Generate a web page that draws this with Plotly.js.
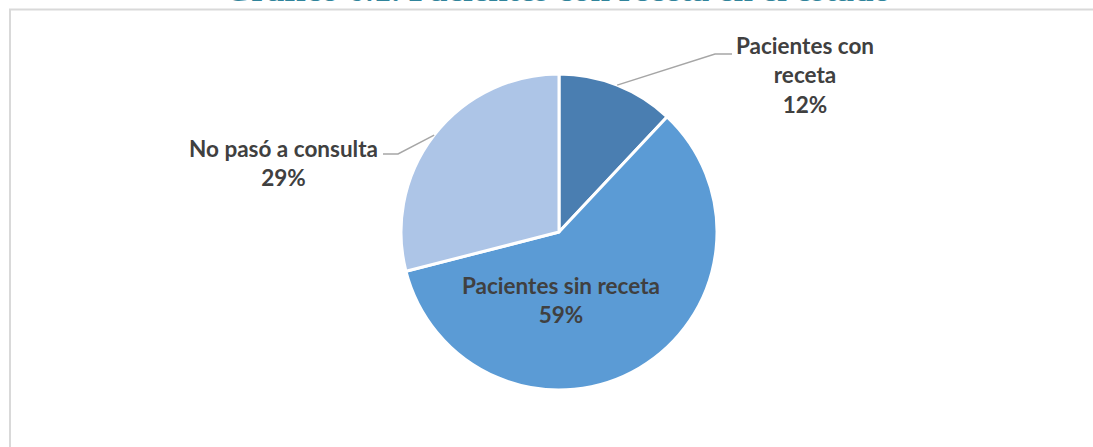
<!DOCTYPE html>
<html>
<head>
<meta charset="utf-8">
<script src="https://cdn.plot.ly/plotly-3.0.1.min.js"></script>
<style>
  html, body { margin: 0; padding: 0; background: #fff; }
  #chart { width: 1093px; height: 447px; }
</style>
</head>
<body>
<div id="chart"></div>
<script>
/* Data */
var categorias = ['Pacientes con receta', 'Pacientes sin receta', 'No pasó a consulta'];
var porcentajes = [12, 59, 29];
var colores = ['#4a7eb1', '#5b9bd5', '#adc5e7'];

var W = 1093, H = 447;
// pie placement in pixels
var cx = 559, cy = 232, R = 158;

var trace = {
  type: 'pie',
  labels: categorias,
  values: porcentajes,
  sort: false,
  direction: 'clockwise',
  rotation: 0,
  textinfo: 'none',
  hoverinfo: 'none',
  marker: {colors: colores, line: {color: '#ffffff', width: 3}},
  domain: {
    x: [(cx - R) / W, (cx + R) / W],
    y: [(H - cy - R) / H, (H - cy + R) / H]
  },
  showlegend: false
};

// point on pie edge at the middle of slice i (px)
function bordeMedio(i) {
  var total = porcentajes.reduce(function (a, b) { return a + b; }, 0);
  var antes = 0;
  for (var k = 0; k < i; k++) antes += porcentajes[k];
  var ang = (antes + porcentajes[i] / 2) / total * 2 * Math.PI;
  return [cx + R * Math.sin(ang), cy - R * Math.cos(ang)];
}
function px(x, y) { return [x / W, 1 - y / H]; }

var p0 = bordeMedio(0), p2 = bordeMedio(2);
function guia(p, codoX, codoY, finX) {
  var a = px(p[0], p[1]), b = px(codoX, codoY), c = px(finX, codoY);
  return {
    type: 'path', xref: 'paper', yref: 'paper',
    path: 'M' + a[0] + ',' + a[1] + ' L' + b[0] + ',' + b[1] + ' L' + c[0] + ',' + c[1],
    line: {color: '#a6a6a6', width: 1.5}
  };
}

var fuente = {family: 'Lato, "Open Sans", sans-serif', size: 22.5, color: '#404040', weight: 'bold'};

var layout = {
  width: W, height: H,
  margin: {l: 0, r: 0, t: 0, b: 0},
  paper_bgcolor: '#ffffff',
  shapes: [
    {type: 'rect', xref: 'paper', yref: 'paper',
     x0: 10 / W, x1: 1.02, y0: -0.05, y1: 1 - 9.5 / H,
     line: {color: '#d9d9d9', width: 2}},
    guia(p0, 715, 54, 732),
    guia(p2, 398, 154, 383)
  ],
  annotations: [
    // title sits mostly above the top edge, as in the source image
    {text: '<b>Gráfico 6.1. Pacientes con receta en el estado</b>',
     xref: 'paper', yref: 'paper', x: 557 / W, y: 1 - 6 / H,
     xanchor: 'center', yanchor: 'bottom', showarrow: false, yshift: -5,
     font: {family: '"Liberation Serif", serif', size: 35, color: '#31849b'}},
    {text: '<b>Pacientes con<br>receta<br>' + porcentajes[0] + '%</b>',
     xref: 'paper', yref: 'paper', x: 805 / W, y: 1 - 75 / H,
     xanchor: 'center', yanchor: 'middle', showarrow: false, font: fuente},
    {text: '<b>Pacientes sin receta<br>' + porcentajes[1] + '%</b>',
     xref: 'paper', yref: 'paper', x: 561 / W, y: 1 - 300 / H,
     xanchor: 'center', yanchor: 'middle', showarrow: false, font: fuente},
    {text: '<b>No pasó a consulta<br>' + porcentajes[2] + '%</b>',
     xref: 'paper', yref: 'paper', x: 283 / W, y: 1 - 163 / H,
     xanchor: 'center', yanchor: 'middle', showarrow: false, font: fuente}
  ]
};

Plotly.newPlot('chart', [trace], layout, {staticPlot: true});
</script>
</body>
</html>
